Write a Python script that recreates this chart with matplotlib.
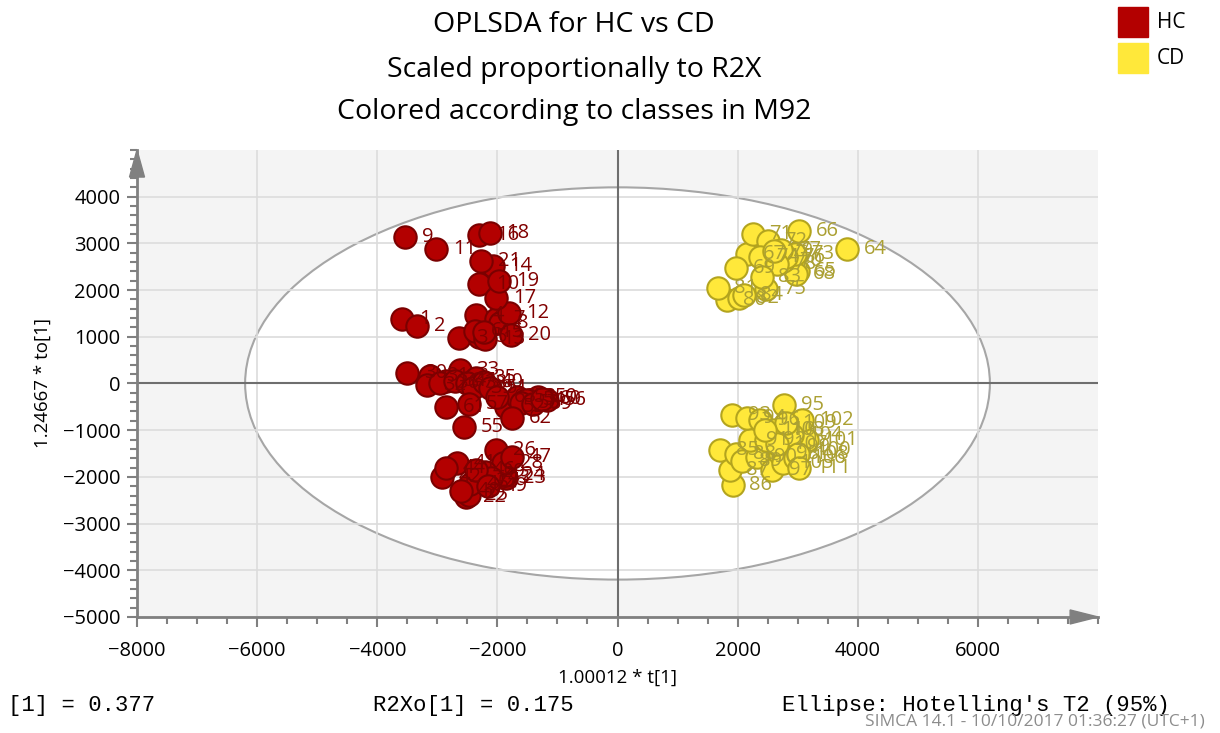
import matplotlib
matplotlib.use("Agg")
import matplotlib.pyplot as plt
from matplotlib.patches import Ellipse, Polygon, Rectangle

plt.rcParams['font.family'] = ['Open Sans', 'DejaVu Sans']

# HC class scores (t[1], to[1]) with observation numbers
hc_ids = [1, 2, 3, 4, 5, 6, 7, 8, 9, 10, 11, 12, 13, 14, 15, 16, 17, 18, 19, 20, 21,
          30, 31, 32, 33, 34, 35, 36, 37, 38, 39, 40, 50, 51, 52, 53, 54, 55, 56, 57,
          58, 59, 60, 61, 62, 63,
          22, 23, 24, 25, 26, 27, 28, 29, 41, 42, 43, 44, 45, 46, 47, 48, 49]
hc_t = [-3580, -3330, -2640, -2350, -2300, -2380, -2020, -1950, -3530, -2300, -3020,
        -1800, -2200, -2080, -2230, -2300, -2020, -2130, -1970, -1770, -2270,
        -3500, -3130, -3180, -2630, -2850, -2350, -2960, -2700, -2500, -2400, -2230,
        -1330, -2130, -1850, -1680, -1520, -2550, -1180, -2470, -1600, -1400, -1250,
        -2850, -1750, -2000,
        -2520, -1850, -1870, -2480, -2020, -2300, -1900, -2200, -2680, -2920, -2100,
        -2850, -2450, -2350, -1750, -2600, -2150]
hc_to = [1390, 1240, 980, 1460, 990, 1130, 1390, 1300, 3140, 2140, 2890,
         1500, 950, 2520, 1100, 3170, 1840, 3230, 2200, 1030, 2630,
         230, 170, -40, 280, 60, 110, 0, 50, 20, -100, 30,
         -300, -90, -510, -300, -360, -940, -360, -430, -420, -430, -330,
         -510, -730, -300,
         -2440, -2030, -1970, -2380, -1430, -2080, -1700, -1900, -1710, -2010, -2030,
         -1800, -2150, -1850, -1580, -2300, -2200]

# CD class scores
cd_ids = list(range(64, 112))
cd_t = [3820, 3000, 3030, 2150, 2980, 1980, 2750, 2250, 2500, 2950, 2370, 2480,
        2800, 2730, 2650, 2600, 1820, 1670, 2030, 2400, 2100,
        1700, 1920, 1870, 1980, 2080, 2320, 2200, 2480, 1900, 2150, 2780, 2370,
        2580, 2700, 2870, 3030, 3150, 3080, 2600, 2900, 2750, 2950, 2650, 3000,
        2800, 2450, 3030]
cd_to = [2890, 2400, 3270, 2780, 2350, 2480, 2630, 3210, 3060, 2780, 2700, 2030,
         2700, 2850, 2550, 2830, 1780, 2050, 1820, 2270, 1900,
         -1430, -2180, -1860, -1500, -1650, -1580, -1220, -1220, -680, -730, -470,
         -790, -1860, -1500, -1370, -1430, -1220, -790, -1000, -1100, -1700, -1600,
         -1300, -1500, -850, -1000, -1820]

ellipse_t = 6200
ellipse_to = 4200

hc_face, hc_edge, hc_text = '#b30000', '#7a0000', '#800000'
cd_face, cd_edge, cd_text = '#ffe83a', '#b3a41e', '#aba033'


def plot_scores():
    fig = plt.figure(figsize=(12.2, 7.33), dpi=100)
    ax = fig.add_axes([0.1123, 0.1583, 0.7877, 0.6371])
    ax.set_facecolor('#f4f4f4')

    ax.set_xlim(-8000, 8000)
    ax.set_ylim(-5000, 5000)
    ax.set_xticks(range(-8000, 7000, 2000))
    ax.set_xticks(range(-8000, 8001, 500), minor=True)
    ax.set_yticks(range(-5000, 4001, 1000))
    ax.set_yticks(range(-5000, 5001, 200), minor=True)
    ax.set_axisbelow(True)
    ax.grid(True, which='major', color='#dcdcdc', lw=1.2)

    for s in ['top', 'right']:
        ax.spines[s].set_visible(False)
    for s in ['left', 'bottom']:
        ax.spines[s].set_color('#808080')
        ax.spines[s].set_linewidth(2)
    ax.tick_params(which='both', direction='out', color='#808080', width=1.5,
                   labelsize=14.5, labelcolor='black')
    ax.tick_params(which='major', length=7)
    ax.tick_params(which='minor', length=5)
    ax.tick_params(axis='x', which='major', pad=10)
    ax.tick_params(axis='y', which='major', pad=5)

    # Hotelling T2 ellipse
    ell = Ellipse((0, 0), 2 * ellipse_t, 2 * ellipse_to, facecolor='white',
                  edgecolor='#a6a6a6', lw=1.5, zorder=0.2)
    ax.add_patch(ell)
    ax.axhline(0, color='#6e6e6e', lw=1.5, zorder=1)
    ax.axvline(0, color='#6e6e6e', lw=1.5, zorder=1)

    ax.scatter(hc_t, hc_to, s=260, c=hc_face, edgecolors=hc_edge, linewidths=1.5, zorder=3)
    ax.scatter(cd_t, cd_to, s=260, c=cd_face, edgecolors=cd_edge, linewidths=1.5, zorder=3)
    for i, x, y in zip(hc_ids, hc_t, hc_to):
        ax.annotate(str(i), (x, y), xytext=(12, 0), textcoords='offset points',
                    ha='left', va='center', fontsize=14.5, color=hc_text, zorder=4)
    for i, x, y in zip(cd_ids, cd_t, cd_to):
        ax.annotate(str(i), (x, y), xytext=(12, 0), textcoords='offset points',
                    ha='left', va='center', fontsize=14.5, color=cd_text, zorder=4)

    # arrow heads on the axes
    ax.add_patch(Polygon([[-0.0078, 0.942], [0.0078, 0.942], [0, 1.0]], closed=True,
                         transform=ax.transAxes, clip_on=False, color='#808080', zorder=5))
    ax.add_patch(Polygon([[0.971, -0.015], [0.971, 0.015], [1.0, 0]], closed=True,
                         transform=ax.transAxes, clip_on=False, color='#808080', zorder=5))

    ax.set_xlabel('1.00012 * t[1]', fontsize=13.5, labelpad=6)
    ax.set_ylabel('1.24667 * to[1]', fontsize=13.5, labelpad=8)

    fig.text(0.4705, 1 - 25 / 733, 'OPLSDA for HC vs CD', ha='center', va='center', fontsize=20.5)
    fig.text(0.4705, 1 - 70 / 733, 'Scaled proportionally to R2X', ha='center', va='center', fontsize=20.5)
    fig.text(0.4705, 1 - 112 / 733, 'Colored according to classes in M92', ha='center', va='center', fontsize=20.5)

    # class legend
    for k, (name, col) in enumerate([('HC', hc_face), ('CD', cd_face)]):
        y0 = 1 - (37 + 36 * k) / 733
        fig.add_artist(Rectangle((1118 / 1220, y0), 30 / 1220, 30 / 733, color=col,
                                 transform=fig.transFigure))
        fig.text(1157 / 1220, y0 + 15 / 733, name, ha='left', va='center', fontsize=15)

    mono = ['Liberation Mono', 'DejaVu Sans Mono']
    fig.text(8 / 1220, 1 - 705 / 733, '[1] = 0.377', family=mono, fontsize=16, va='center')
    fig.text(373 / 1220, 1 - 705 / 733, 'R2Xo[1] = 0.175', family=mono, fontsize=16, va='center')
    fig.text(782 / 1220, 1 - 705 / 733, "Ellipse: Hotelling's T2 (95%)", family=mono,
             fontsize=16, va='center')
    fig.text(1205 / 1220, 1 - 721 / 733, 'SIMCA 14.1 - 10/10/2017 01:36:27 (UTC+1)',
             ha='right', va='center', fontsize=12.5, color='#8c8c8c')

    fig.savefig('out.png', dpi=100)
    plt.close(fig)


if __name__ == '__main__':
    plot_scores()
